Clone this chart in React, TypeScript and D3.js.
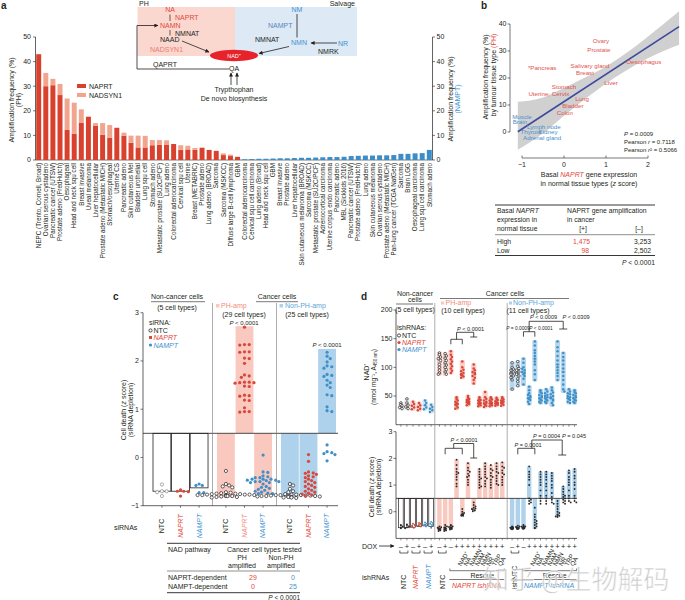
import React from 'react';
import * as d3 from 'd3';

const FONT = "'Liberation Sans', Arial, Helvetica, sans-serif";
const INK = '#231f20';
const RED = '#d8412d';
const SALMON = '#f2a58e';
const BLUE = '#3b8dc7';
const TRED = '#e2483a';
const TBLUE = '#3f93cf';
const PINKF = '#f9c8bf';
const BLUEF = '#aed2eb';

// ---------- Panel a ----------
const phTypes = ['NEPC (Trento, Cornell, Broad)', 'Ovarian serous cystadeno', 'Pancreatic cancer (UTSW)', 'Prostate adeno (FredHutch)', 'Oesophageal', 'Head and neck squ cell', 'Breast invasive', 'Uveal melanoma', 'Liver hepatocellular', 'Prostate adeno (Metastatic MICH)', 'Stomach/oesophageal', 'Uterine CS', 'Pancreatic adeno', 'Skin cutaneous Mel', 'Bladder urothelial', 'Lung squ cell', 'Stomach adeno', 'Metastatic prostate (SU2C/PCF)', 'Lung adeno', 'Colorectal adenocarcinoma', 'Cervical squ cell', 'Uterine', 'Breast (METABRIC)', 'Prostate adeno', 'Lung adeno (BROAD)', 'Sarcoma', 'Sarcoma (MSKCC)', 'Diffuse large B-cell lymphoma', 'GBM'];
const naprtAmp = [43, 30, 30.4, 26.4, 12.2, 10.6, 15.2, 17.6, 14, 10.2, 9.1, 13.1, 9.9, 7.0, 5.1, 5.1, 6.0, 6.2, 6.3, 6.5, 4.1, 4.3, 4.2, 5.0, 4.1, 3.7, 2.0, 1.6, 1.3];
const nadsyn1Amp = [0, 5.4, 2.6, 4.5, 12.8, 12.7, 5.4, 0, 1, 4.8, 5.1, 0, 1.2, 2.9, 4.8, 4.7, 2.1, 1.9, 1.7, 0, 1.9, 1.5, 0.7, 0, 0, 0, 0.7, 0.6, 0];
const namptTypes = ['Colorectal adenocarcinoma', 'Cervical squ cell carcinoma', 'Lung adeno (Broad)', 'Head and neck squ cell', 'GBM', 'Breast invasive', 'Prostate adeno', 'Liver hepatocellular', 'Skin cutaneous melanoma (BROAD)', 'Sarcoma (MSKCC)', 'Metastatic prostate (SU2C/PCF)', 'Adrenocortical carcinoma', 'Uterine corpus endo carcinoma', 'Pancreatic adeno', 'MBL (Sickkids 2016)', 'Pancreatic cancer (UTSW)', 'Prostate adeno (FredHutch)', 'Lung adeno', 'Skin cutaneous melanoma', 'Ovarian serous cystadeno', 'Prostate adeno (Metastatic MICH)', 'Pan-lung cancer (TCGA NatGen)', 'Sarcoma', 'Brain LGG', 'Oesophageal carcinoma', 'Lung squ cell carcinoma', 'Stomach adeno'];
const namptAmp = [0.3, 0.4, 0.5, 0.5, 0.6, 0.7, 0.7, 0.8, 0.9, 0.9, 1.0, 1.1, 1.2, 1.2, 1.3, 1.6, 1.7, 1.8, 1.8, 1.9, 1.9, 2.0, 2.5, 2.5, 2.7, 2.8, 4.1];
const ampTicks = [0, 10, 20, 30, 40, 50];

// ---------- Panel b ----------
const tissues = ['Ovary', 'Prostate', '*Pancreas', 'Salivary gland', 'Oesophagus', 'Breast', 'Liver', 'Stomach', 'Uterine; Cervix', 'Lung', 'Bladder', 'Colon', 'Muscle', 'Brain', 'Lymph node', 'Thyroid', 'Kidney', 'Adrenal gland'];
const tissueExpr = [0.88, 0.83, -0.52, 0.62, 1.9, 0.5, 1.12, 0.0, -0.36, 0.43, 0.21, 0.02, -1.0, -1.05, -0.48, -0.79, -0.38, -0.52];
const tissueAmp = [33.7, 30.4, 23.7, 24.4, 25.9, 21.9, 18.1, 16.7, 14.1, 12.2, 9.6, 7.0, 5.6, 3.7, 1.9, 0.1, 0.0, -2.2];
const tissuePH = [1, 1, 1, 1, 1, 1, 1, 1, 1, 1, 1, 1, 0, 0, 0, 0, 0, 0];
const fitX = [-1.1, 2.74];
const fitY = [0.1, 39];
const bandX = [-1.1, -0.5, 0, 0.5, 1.0, 1.5, 2.0, 2.74];
const bandLo = [-6.6, -0.5, 6.0, 12.2, 18.0, 23.0, 27.3, 32.3];
const bandHi = [11.2, 12.8, 16.3, 20.2, 24.3, 29.4, 35.4, 44.7];
const bXTicks = [-1, 0, 1, 2];
const bYTicks = [0, 10, 20, 30, 40];

// ---------- Panel c ----------
const cGroups = ['non', 'ph', 'nonph'];
const cSi = ['NTC', 'NAPRT', 'NAMPT'];
const cBars = { non: [-0.7, -0.7, -0.63], ph: [-0.83, 2.72, -0.77], nonph: [-0.83, -0.8, 2.25] };
const cNonNTC = [-0.56, -0.7, -0.7, -0.72, -0.8];
const cNonNAPRT = [-0.67, -0.7, -0.7, -0.71, -0.8];
const cNonNAMPT = [-0.58, -0.58, -0.55, -0.73, -0.73];
const cPHNTC = [-0.28, -0.55, -0.58, -0.6, -0.62, -0.72, -0.73, -0.74, -0.75, -0.75, -0.76, -0.76, -0.77, -0.77, -0.78, -0.78, -0.78, -0.79, -0.79, -0.8, -0.8, -0.8, -0.81, -0.81, -0.82, -0.82, -0.83, -0.79, -0.77];
const cPHNAPRT = [2.7, 2.34, 2.33, 2.34, 2.19, 2.18, 2.19, 2.05, 2.06, 1.95, 1.71, 1.69, 1.66, 1.56, 1.55, 1.56, 1.55, 1.54, 1.47, 1.48, 1.28, 1.27, 1.29, 1.18, 1.19, 1.03, 0.95, 0.94, 0.95];
const cPHNAMPT = [0.05, -0.3, -0.31, -0.38, -0.4, -0.42, -0.42, -0.45, -0.45, -0.45, -0.47, -0.47, -0.48, -0.5, -0.5, -0.5, -0.52, -0.52, -0.55, -0.6, -0.62, -0.64, -0.66, -0.68, -0.7, -0.72, -0.74, -0.75, -0.75];
const cNPNTC = [-0.55, -0.58, -0.65, -0.7, -0.72, -0.76, -0.77, -0.77, -0.78, -0.78, -0.79, -0.79, -0.8, -0.8, -0.8, -0.81, -0.81, -0.82, -0.82, -0.83, -0.83, -0.84, -0.79, -0.8, -0.78];
const cNPNAPRT = [0.06, -0.08, -0.3, -0.32, -0.33, -0.35, -0.38, -0.4, -0.42, -0.45, -0.48, -0.5, -0.52, -0.55, -0.58, -0.6, -0.62, -0.65, -0.68, -0.7, -0.72, -0.74, -0.76, -0.78, -0.8];
const cNPNAMPT = [2.18, 2.1, 2.05, 1.98, 1.9, 1.88, 1.85, 1.72, 1.7, 1.68, 1.6, 1.55, 1.5, 1.45, 1.3, 1.28, 1.05, 0.97, 0.95, 0.26, 0.12, 0.1, 0.08, 0.06, -0.07];
const cYTicks = [-1, 0, 1, 2, 3];

// ---------- Panel d ----------
const dNonDox = ['–', '+', '–', '+', '–', '+'];
const dCancerDox = ['–', '+', '–', '+', '+', '+', '+', '+', '+', '+', '+', '+'];
const rescueLabels = ['NAD⁺', 'NA', 'NAMN', 'NAM', 'NMN', 'NR', 'TRP', 'QA'];
const dNadNon = [[38, 35, 33, 30, 28], [45, 38, 34, 31, 28], [40, 36, 33, 30, 27], [38, 34, 31, 28, 25], [42, 38, 34, 30, 27], [35, 31, 28, 25, 22]];
const dNadPH = [
  [125, 122, 118, 115, 112, 105, 100, 95, 90, 88], [124, 120, 116, 112, 108, 104, 100, 96, 92, 88],
  [128, 122, 118, 114, 110, 106, 102, 98, 94, 90], [48, 45, 42, 40, 38, 36, 35, 33, 30, 28],
  [110, 100, 96, 93, 90, 88, 87, 86, 84, 82], [50, 47, 45, 43, 42, 40, 39, 38, 36, 34],
  [105, 98, 95, 92, 90, 88, 85, 82, 78, 72], [48, 45, 43, 42, 40, 38, 37, 36, 34, 32],
  [57, 48, 45, 42, 40, 38, 37, 35, 33, 31], [48, 46, 44, 42, 40, 38, 37, 36, 34, 32],
  [47, 45, 43, 41, 40, 38, 37, 36, 35, 33], [48, 46, 44, 42, 41, 40, 38, 37, 35, 33]];
const dNadNP = [
  [108, 100, 97, 95, 92, 90, 88, 85, 82, 78, 62], [110, 102, 98, 95, 92, 90, 88, 85, 80, 75, 68],
  [115, 108, 100, 97, 95, 92, 90, 88, 85, 80, 70], [66, 60, 55, 52, 50, 48, 46, 45, 43, 40, 36],
  [145, 138, 130, 125, 120, 115, 110, 105, 95, 88, 78], [60, 57, 55, 52, 50, 48, 46, 44, 42, 40, 38],
  [62, 58, 55, 52, 50, 48, 46, 44, 42, 40, 38], [65, 60, 56, 53, 50, 48, 46, 44, 42, 38, 34],
  [145, 135, 128, 120, 112, 105, 100, 95, 90, 85, 78], [125, 118, 112, 105, 98, 92, 85, 78, 70, 62, 58],
  [62, 58, 55, 53, 50, 48, 46, 45, 43, 40, 38], [60, 57, 55, 52, 50, 48, 46, 44, 42, 40, 38]];
const dBarNon = [-0.6, -0.6, -0.58, -0.55, -0.53, -0.55];
const dDeathNon = [[-0.5, -0.52, -0.55, -0.6, -0.62], [-0.48, -0.5, -0.55, -0.58, -0.62], [-0.45, -0.5, -0.52, -0.55, -0.6], [-0.42, -0.45, -0.5, -0.52, -0.55], [-0.4, -0.45, -0.48, -0.5, -0.55], [-0.38, -0.42, -0.45, -0.5, -0.6]];
const dBarPH = [-0.68, -0.68, -0.66, 1.96, -0.12, 1.85, 0.07, 1.62, 1.85, 1.75, 1.85, 1.88];
const dDeathPH = [
  [-0.55, -0.58, -0.6, -0.62, -0.63, -0.65, -0.66, -0.68, -0.7, -0.72], [-0.5, -0.55, -0.58, -0.6, -0.62, -0.64, -0.66, -0.68, -0.7, -0.72],
  [-0.5, -0.52, -0.55, -0.57, -0.58, -0.6, -0.62, -0.63, -0.65, -0.67], [1.95, 1.75, 1.6, 1.5, 1.45, 1.4, 1.3, 1.2, 1.05, 0.95],
  [0.1, 0.0, -0.05, -0.08, -0.1, -0.1, -0.12, -0.13, -0.15, -0.15], [1.82, 1.65, 1.55, 1.5, 1.42, 1.35, 1.3, 1.2, 1.1, 1.0],
  [0.35, 0.25, 0.2, 0.15, 0.12, 0.1, 0.08, 0.05, 0.05, 0.02], [1.6, 1.5, 1.4, 1.3, 1.25, 1.2, 1.1, 1.0, 0.95, 0.9],
  [1.82, 1.7, 1.6, 1.5, 1.4, 1.3, 1.25, 1.15, 1.05, 0.95], [1.75, 1.6, 1.55, 1.45, 1.35, 1.3, 1.2, 1.1, 1.0, 0.9],
  [1.82, 1.7, 1.6, 1.5, 1.45, 1.35, 1.25, 1.15, 1.05, 1.0], [1.85, 1.7, 1.65, 1.55, 1.45, 1.4, 1.3, 1.2, 1.1, 1.0]];
const dBarNP = [-0.62, -0.62, -0.6, 1.7, -0.65, 1.5, 1.52, 1.48, -0.18, 0.95, 1.55, 1.62];
const dDeathNP = [
  [-0.55, -0.57, -0.58, -0.6, -0.6, -0.62, -0.62, -0.63, -0.64, -0.65, -0.66], [-0.52, -0.55, -0.57, -0.58, -0.6, -0.6, -0.61, -0.62, -0.63, -0.64, -0.65],
  [-0.5, -0.52, -0.55, -0.56, -0.57, -0.58, -0.6, -0.61, -0.62, -0.63, -0.64], [1.7, 1.5, 1.4, 1.3, 1.2, 1.0, 0.5, 0.45, 0.4, 0.35, 0.3],
  [0.15, -0.1, -0.2, -0.3, -0.35, -0.4, -0.45, -0.5, -0.55, -0.6, -0.62], [1.5, 1.4, 1.3, 1.2, 1.1, 1.0, 0.8, 0.6, 0.5, 0.4, 0.3],
  [1.5, 1.4, 1.3, 1.2, 1.05, 0.95, 0.8, 0.6, 0.5, 0.4, 0.3], [1.45, 1.35, 1.25, 1.15, 1.0, 0.9, 0.7, 0.55, 0.45, 0.35, 0.3],
  [0.4, 0.3, 0.2, 0.1, 0.0, -0.05, -0.1, -0.12, -0.15, -0.18, -0.2], [0.95, 0.85, 0.75, 0.65, 0.6, 0.55, 0.5, 0.45, 0.4, 0.35, 0.3],
  [1.55, 1.45, 1.3, 1.2, 1.1, 1.0, 0.8, 0.6, 0.5, 0.4, 0.35], [1.6, 1.5, 1.35, 1.25, 1.1, 1.0, 0.85, 0.6, 0.5, 0.4, 0.35]];
const dNadTicks = [50, 100, 150, 200];
const dDeathTicks = [0, 1, 2, 3];

function swarm(vals: number[], yf: (v: number) => number, cx: number, r: number, maxOff = 99) {
  const ys = vals.map(yf).sort((a, b) => a - b);
  const out: { x: number; y: number }[] = [];
  const step = r * 0.9;
  ys.forEach((py, idx) => {
    let chosen: number | null = null;
    for (let k = 0; k < 40; k++) {
      const off = (k % 2 === 1 ? 1 : -1) * Math.ceil(k / 2) * step;
      if (Math.abs(off) > maxOff) break;
      const ok = out.every(p => (p.x - (cx + off)) ** 2 + (p.y - py) ** 2 >= (2 * r) ** 2 * 0.92);
      if (ok) { chosen = off; break; }
    }
    if (chosen === null) chosen = ((idx % 3) - 1) * Math.min(maxOff, step);
    out.push({ x: cx + chosen, y: py });
  });
  return out;
}

const T = ({ x, y, s = 7, a = 'start', c = INK, w, it, r, children }: any) => (
  <text x={x} y={y} fontSize={s} textAnchor={a} fill={c} fontWeight={w} fontStyle={it ? 'italic' : undefined}
    transform={r ? `rotate(${r},${x},${y})` : undefined}>{children}</text>
);

const Dot = ({ p, kind, r }: any) => {
  if (kind === 'open') return <circle cx={p.x} cy={p.y} r={r} fill="#fff" stroke={INK} strokeWidth={0.7} />;
  if (kind === 'grey') return <circle cx={p.x} cy={p.y} r={r} fill="#fff" stroke="#888" strokeWidth={0.7} />;
  const fill = kind === 'red' ? '#d9463a' : kind === 'blue' ? '#3f90c9' : '#2b2b2b';
  return <circle cx={p.x} cy={p.y} r={r} fill={fill} />;
};

export default function App() {
  const nPH = phTypes.length;
  const aLabels = [...phTypes, ...namptTypes];
  const xa = d3.scaleBand<number>().domain(d3.range(aLabels.length)).range([35.5, 432.5]).paddingInner(0.3).paddingOuter(0.1);
  const ya = d3.scaleLinear().domain([0, 50]).range([160, 37]);
  const xb = d3.scaleLinear().domain([-1, 2]).range([522, 648]);
  const yb = d3.scaleLinear().domain([0, 40]).range([132, 24]);
  const band = d3.area<number>().x((d, i) => xb(bandX[i])).y0((d, i) => yb(bandLo[i])).y1((d, i) => yb(bandHi[i])).curve(d3.curveMonotoneX)(bandX);
  const fit = d3.line<number>().x((d, i) => xb(fitX[i])).y(d => yb(d))(fitY);
  const xcG = d3.scaleBand<string>().domain(cGroups).range([153, 336]).paddingInner(0.14);
  const xcI = d3.scaleBand<string>().domain(cSi).range([0, xcG.bandwidth()]).paddingInner(0.04);
  const yc = d3.scaleLinear().domain([-1, 3]).range([505.7, 312.7]);
  const cx = (g: string, s: string) => (xcG(g) as number) + (xcI(s) as number);
  const cxc = (g: string, s: string) => cx(g, s) + xcI.bandwidth() / 2;
  const cDots: [string, string, number[], string][] = [
    ['non', 'NTC', cNonNTC, 'grey'], ['non', 'NAPRT', cNonNAPRT, 'red'], ['non', 'NAMPT', cNonNAMPT, 'blue'],
    ['ph', 'NTC', cPHNTC, 'open'], ['ph', 'NAPRT', cPHNAPRT, 'red'], ['ph', 'NAMPT', cPHNAMPT, 'blue'],
    ['nonph', 'NTC', cNPNTC, 'open'], ['nonph', 'NAPRT', cNPNAPRT, 'red'], ['nonph', 'NAMPT', cNPNAMPT, 'blue']];
  const cXLab: [string, string, string][] = [];
  cGroups.forEach(g => cSi.forEach(s => cXLab.push([g, s, s === 'NTC' ? INK : s === 'NAPRT' ? (g === 'ph' ? '#f08c80' : TRED) : TBLUE])));
  const xdNon = d3.scaleBand<number>().domain(d3.range(6)).range([398.5, 433.5]).paddingInner(0.22);
  const xdPH = d3.scaleBand<number>().domain(d3.range(12)).range([437.2, 504.5]).paddingInner(0.22);
  const xdNP = d3.scaleBand<number>().domain(d3.range(12)).range([509.9, 576.8]).paddingInner(0.22);
  const ydT = d3.scaleLinear().domain([0, 200]).range([424.7, 310]);
  const ydB = d3.scaleLinear().domain([-1, 3]).range([538.4, 431.7]);
  const dc = (sc: any, i: number) => sc(i) + sc.bandwidth() / 2;
  const nonKinds = ['open', 'open', 'red', 'red', 'blue', 'blue'];
  const phKinds = (i: number) => (i < 2 ? 'open' : 'red');
  const npKinds = (i: number) => (i < 2 ? 'open' : 'blue');
  const nonBox = ['#e6e6e6', '#e6e6e6', '#f6d2cb', '#f6d2cb', '#cfe2f1', '#cfe2f1'];

  const arrow = 'url(#ah)';
  const thr = yc(0.5);
  const thrD = ydB(0.5);

  const dAll: [any, number[][], number[], (i: number) => string, string][] = [
    [xdNon, dNadNon, dBarNon, (i: number) => nonKinds[i], 'non'],
    [xdPH, dNadPH, dBarPH, phKinds, 'ph'],
    [xdNP, dNadNP, dBarNP, npKinds, 'np']];
  const deathAll = [dDeathNon, dDeathPH, dDeathNP];

  const bracket = (x1: number, x2: number, y: number, h: number) => `M${x1},${y + h}V${y}H${x2}V${y + h}`;

  return (
    <svg width={685} height={600} style={{ position: 'absolute', left: 0, top: 0, fontFamily: FONT, background: '#fff' }}>
      <defs>
        <marker id="ah" viewBox="0 0 10 10" refX="9" refY="5" markerWidth="5" markerHeight="4" markerUnits="userSpaceOnUse" orient="auto">
          <path d="M0,0L10,5L0,10z" fill={INK} />
        </marker>
      </defs>
      <rect x={0} y={0} width={685} height={600} fill="#fff" />

      {/* ================= Panel a ================= */}
      <T x={1} y={9} s={10} w="bold">a</T>
      <rect x={137.5} y={7} width={97.5} height={49} fill="#fbd8cf" />
      <rect x={235} y={7} width={122} height={49} fill="#dde9f5" />
      <T x={139} y={5.5} s={7}>PH</T>
      <T x={355} y={5.5} s={7} a="end">Salvage</T>
      <T x={170} y={12} s={7} a="middle" c={TRED}>NA</T>
      <line x1={170} x2={170} y1={14.5} y2={21} stroke={INK} strokeWidth={0.7} />
      <T x={175} y={20} s={7} c={TRED}>NAPRT</T>
      <T x={160} y={28} s={7} c={TRED}>NAMN</T>
      <path d="M229,69H137V25.5H158" fill="none" stroke={INK} strokeWidth={0.8} markerEnd={arrow} />
      <line x1={170} x2={170} y1={30} y2={35.5} stroke={INK} strokeWidth={0.7} />
      <T x={175} y={35.5} s={7}>NMNAT</T>
      <T x={160} y={42} s={7}>NAAD</T>
      <line x1={182} y1={41} x2={209} y2={52} stroke={INK} strokeWidth={0.8} markerEnd={arrow} />
      <T x={150} y={52} s={7} c="#e77d6e">NADSYN1</T>
      <T x={153} y={66.5} s={7}>QAPRT</T>
      <ellipse cx={234} cy={55.5} rx={24} ry={5.8} fill="#e6232b" />
      <T x={234} y={57.8} s={5.5} a="middle" c="#fff">NAD⁺</T>
      <T x={234} y={70.5} s={7} a="middle">QA</T>
      <line x1={231} x2={231} y1={85} y2={73} stroke={INK} strokeWidth={0.8} markerEnd={arrow} />
      <line x1={237} x2={237} y1={85} y2={73} stroke={INK} strokeWidth={0.8} markerEnd={arrow} />
      <T x={234} y={92} s={7} a="middle">Trypthophan</T>
      <T x={234} y={101} s={7} a="middle">De novo biosynthesis</T>
      <T x={297} y={12} s={7} a="middle" c={TBLUE}>NM</T>
      <line x1={297} x2={297} y1={14} y2={37.5} stroke={INK} strokeWidth={0.8} />
      <T x={268} y={28} s={7} c="#5a86bf">NAMPT</T>
      <T x={255} y={42} s={7}>NMNAT</T>
      <T x={291} y={45} s={7} c={TBLUE}>NMN</T>
      <line x1={289} y1={46.5} x2={259} y2={53.5} stroke={INK} strokeWidth={0.8} markerEnd={arrow} />
      <line x1={337} y1={43} x2={311} y2={43} stroke={INK} strokeWidth={0.8} markerEnd={arrow} />
      <T x={338} y={45.5} s={7} c={TBLUE}>NR</T>
      <T x={318} y={54} s={7}>NMRK</T>

      <line x1={35.5} x2={35.5} y1={ya(50)} y2={ya(0)} stroke={INK} strokeWidth={0.7} />
      <line x1={432.5} x2={432.5} y1={ya(50)} y2={ya(0)} stroke={INK} strokeWidth={0.7} />
      <line x1={35.5} x2={432.5} y1={ya(0)} y2={ya(0)} stroke={INK} strokeWidth={0.6} />
      {ampTicks.map(t => (
        <g key={'at' + t}>
          <line x1={33} x2={35.5} y1={ya(t)} y2={ya(t)} stroke={INK} strokeWidth={0.6} />
          <T x={31} y={ya(t) + 2.4} s={7} a="end">{t}</T>
          <line x1={432.5} x2={435} y1={ya(t)} y2={ya(t)} stroke={INK} strokeWidth={0.6} />
          <T x={436.5} y={ya(t) + 2.4} s={7}>{t}</T>
        </g>
      ))}
      <text fontSize={7} fill={INK} textAnchor="middle" transform={`translate(13.5,100) rotate(-90)`}>Amplification frequency (%)</text>
      <text fontSize={7} fill={INK} textAnchor="middle" transform={`translate(20.5,100) rotate(-90)`}>(PH)</text>
      <text fontSize={7} fill={INK} textAnchor="middle" transform={`translate(453,99) rotate(-90)`}>Amplification frequency (%)</text>
      <text fontSize={7} fill={TBLUE} textAnchor="middle" transform={`translate(460,99) rotate(-90)`}>(NAMPT)</text>
      {phTypes.map((n, i) => (
        <g key={'pb' + i}>
          <rect x={xa(i)} width={xa.bandwidth()} y={ya(naprtAmp[i])} height={ya(0) - ya(naprtAmp[i])} fill={RED} />
          {nadsyn1Amp[i] > 0 && <rect x={xa(i)} width={xa.bandwidth()} y={ya(naprtAmp[i] + nadsyn1Amp[i])} height={ya(naprtAmp[i]) - ya(naprtAmp[i] + nadsyn1Amp[i])} fill={SALMON} />}
        </g>
      ))}
      {namptTypes.map((n, i) => (
        <rect key={'nb' + i} x={xa(i + nPH)} width={xa.bandwidth()} y={ya(namptAmp[i])} height={ya(0) - ya(namptAmp[i])} fill={BLUE} />
      ))}
      {aLabels.map((n, i) => {
        const x = (xa(i) as number) + xa.bandwidth() / 2 + 2.2;
        return <text key={'al' + i} fontSize={6.3} fill={INK} textAnchor="end" transform={`translate(${x},163) rotate(-90)`}>{n}</text>;
      })}
      <rect x={77} y={84} width={9} height={4} fill={RED} />
      <T x={89} y={88.5} s={7}>NAPRT</T>
      <rect x={77} y={93} width={9} height={4} fill={SALMON} />
      <T x={89} y={97.5} s={7}>NADSYN1</T>

      {/* ================= Panel b ================= */}
      <T x={481} y={9} s={10} w="bold">b</T>
      <path d={band as string} fill="#c8c8c8" opacity={0.85} />
      <path d={fit as string} fill="none" stroke="#3c4a9e" strokeWidth={1.6} />
      <line x1={510} x2={510} y1={yb(40)} y2={yb(0)} stroke={INK} strokeWidth={0.6} />
      {bYTicks.map(t => (
        <g key={'byt' + t}>
          <line x1={507.5} x2={510} y1={yb(t)} y2={yb(t)} stroke={INK} strokeWidth={0.6} />
          <T x={506.5} y={yb(t) + 2.4} s={7} a="end">{t}</T>
        </g>
      ))}
      <line x1={xb(-1)} x2={xb(2)} y1={158} y2={158} stroke={INK} strokeWidth={0.6} />
      {bXTicks.map(t => (
        <g key={'bxt' + t}>
          <line x1={xb(t)} x2={xb(t)} y1={155.5} y2={158} stroke={INK} strokeWidth={0.6} />
          <T x={xb(t)} y={166.5} s={7} a="middle">{t === -1 ? '−1' : t}</T>
        </g>
      ))}
      <text fontSize={7} fill={INK} textAnchor="middle" transform="translate(487.5,77) rotate(-90)">Amplification frequency (%)</text>
      <text fontSize={7} fill={INK} textAnchor="middle" transform="translate(496,75) rotate(-90)">by tumour tissue type <tspan fill={TRED}>(PH)</tspan></text>
      <text x={589} y={176.5} fontSize={7} fill={INK} textAnchor="middle">Basal <tspan fill={TRED} fontStyle="italic">NAPRT</tspan> gene expression</text>
      <text x={589} y={185.5} fontSize={7} fill={INK} textAnchor="middle">in normal tissue types (<tspan fontStyle="italic">z</tspan> score)</text>
      {tissues.map((n, i) => (
        <T key={'ts' + i} x={xb(tissueExpr[i])} y={yb(tissueAmp[i]) + 2.3} s={6.2} a="middle" c={tissuePH[i] ? '#e2504a' : '#4a90cd'}>{n}</T>
      ))}
      <text x={624} y={135.5} fontSize={6} fill={INK}><tspan fontStyle="italic">P</tspan> = 0.0009</text>
      <text x={624} y={143.5} fontSize={6} fill={INK}>Pearson <tspan fontStyle="italic">r</tspan> = 0.7118</text>
      <text x={624} y={151.5} fontSize={6} fill={INK}>Pearson <tspan fontStyle="italic">r</tspan>² = 0.5066</text>
      <line x1={495} x2={655} y1={205} y2={205} stroke={INK} strokeWidth={0.9} />
      <text x={497} y={213} fontSize={6.8} fill={INK}>Basal <tspan fontStyle="italic">NAPRT</tspan></text>
      <T x={497} y={222} s={6.8}>expression in</T>
      <T x={497} y={230.5} s={6.8}>normal tissue</T>
      <T x={567} y={213} s={6.8}>NAPRT gene amplification</T>
      <T x={567} y={222} s={6.8}>in cancer</T>
      <T x={583} y={231} s={6.8} a="middle">[+]</T>
      <T x={639} y={231} s={6.8} a="middle">[–]</T>
      <line x1={495} x2={655} y1={234.7} y2={234.7} stroke={INK} strokeWidth={0.5} />
      <T x={497} y={243.5} s={6.8}>High</T>
      <T x={590} y={243.5} s={6.8} a="end" c={TRED}>1,475</T>
      <T x={651} y={243.5} s={6.8} a="end">3,253</T>
      <T x={497} y={252.5} s={6.8}>Low</T>
      <T x={589} y={252.5} s={6.8} a="end" c={TRED}>98</T>
      <T x={651} y={252.5} s={6.8} a="end">2,502</T>
      <line x1={495} x2={655} y1={255.5} y2={255.5} stroke={INK} strokeWidth={0.9} />
      <text x={655} y={265} fontSize={6.8} fill={INK} textAnchor="end"><tspan fontStyle="italic">P</tspan> &lt; 0.0001</text>

      {/* ================= Panel c ================= */}
      <T x={113} y={299.5} s={10} w="bold">c</T>
      <T x={177} y={298.5} s={7} a="middle">Non-cancer cells</T>
      <line x1={151} x2={205} y1={301.7} y2={301.7} stroke={INK} strokeWidth={0.6} />
      <T x={177} y={309.5} s={7} a="middle">(5 cell types)</T>
      <T x={277} y={298.5} s={7} a="middle">Cancer cells</T>
      <line x1={256} x2={298} y1={301.7} y2={301.7} stroke={INK} strokeWidth={0.6} />
      <rect x={216} y={304} width={3.5} height={3.5} fill={PINKF} />
      <T x={221} y={308} s={7} c="#f08a7a">PH-amp</T>
      <T x={244} y={316.5} s={7} a="middle">(29 cell types)</T>
      <rect x={279.5} y={304} width={3.5} height={3.5} fill={BLUEF} />
      <T x={285} y={308} s={7} c="#5ba6d9">Non-PH-amp</T>
      <T x={307} y={316.5} s={7} a="middle">(25 cell types)</T>
      {cGroups.map(g => cSi.map((s, j) => {
        const v = (cBars as any)[g][j];
        const y0 = Math.min(thr, yc(v)), h = Math.abs(yc(v) - thr);
        const fill = g === 'non' ? '#fff' : g === 'ph' ? PINKF : BLUEF;
        return <rect key={'cb' + g + s} x={cx(g, s)} width={xcI.bandwidth()} y={y0} height={h} fill={fill}
          stroke={g === 'non' ? INK : 'none'} strokeWidth={0.8} />;
      }))}
      <line x1={143} x2={338} y1={thr} y2={thr} stroke={INK} strokeWidth={0.8} />
      <line x1={212.5} x2={212.5} y1={303} y2={505.7} stroke="#777" strokeWidth={0.6} />
      <line x1={276.5} x2={276.5} y1={303} y2={505.7} stroke="#777" strokeWidth={0.6} />
      {cDots.map(([g, s, vals, kind]) => swarm(vals, yc, cxc(g, s), 1.75).map((p, k) => (
        <Dot key={'cd' + g + s + k} p={p} kind={kind} r={1.6} />
      )))}
      <line x1={143} x2={143} y1={yc(3)} y2={yc(-1)} stroke={INK} strokeWidth={0.7} />
      <line x1={143} x2={338} y1={yc(-1)} y2={yc(-1)} stroke={INK} strokeWidth={0.7} />
      {cYTicks.map(t => (
        <g key={'cyt' + t}>
          <line x1={140.5} x2={143} y1={yc(t)} y2={yc(t)} stroke={INK} strokeWidth={0.6} />
          <T x={139} y={yc(t) + 2.4} s={7} a="end">{t < 0 ? '−' + Math.abs(t) : t}</T>
        </g>
      ))}
      {cXLab.map(([g, s]) => (
        <line key={'cxt' + g + s} x1={cxc(g, s)} x2={cxc(g, s)} y1={yc(-1)} y2={yc(-1) + 2} stroke={INK} strokeWidth={0.6} />
      ))}
      <text fontSize={7} fill={INK} textAnchor="middle" transform="translate(126,410) rotate(-90)">Cell death (<tspan fontStyle="italic">z</tspan> score)</text>
      <text fontSize={7} fill={INK} textAnchor="middle" transform="translate(133,410) rotate(-90)">(siRNA depletion)</text>
      <text x={244} y={324.5} fontSize={6} fill={INK} textAnchor="middle"><tspan fontStyle="italic">P</tspan> &lt; 0.0001</text>
      <text x={327} y={346.5} fontSize={6} fill={INK} textAnchor="middle"><tspan fontStyle="italic">P</tspan> &lt; 0.0001</text>
      <T x={149} y={325} s={7}>siRNA:</T>
      <circle cx={150.5} cy={330.5} r={1.6} fill="#fff" stroke={INK} strokeWidth={0.8} />
      <T x={153.5} y={333} s={7}>NTC</T>
      <rect x={149} y={336} width={3} height={3} fill="#d9463a" />
      <T x={153.5} y={340} s={7} c={TRED} it>NAPRT</T>
      <circle cx={150.5} cy={345} r={1.6} fill="#3f90c9" />
      <T x={153.5} y={347.5} s={7} c={TBLUE} it>NAMPT</T>
      {cXLab.map(([g, s, col]) => (
        <text key={'cxl' + g + s} fontSize={7} fill={col} fontStyle={s === 'NTC' ? undefined : 'italic'} textAnchor="middle"
          transform={`translate(${cxc(g, s) + 2.4},526) rotate(-90)`}>{s}</text>
      ))}
      <T x={114} y={530} s={7}>siRNAs</T>
      <line x1={167} x2={300} y1={543.3} y2={543.3} stroke={INK} strokeWidth={0.9} />
      <T x={168} y={551.5} s={7}>NAD pathway</T>
      <T x={227} y={551.5} s={7}>Cancer cell types tested</T>
      <T x={242} y={560} s={7} a="middle">PH</T>
      <T x={242} y={568} s={7} a="middle">amplified</T>
      <T x={281} y={560} s={7} a="middle">Non-PH</T>
      <T x={281} y={568} s={7} a="middle">amplified</T>
      <line x1={167} x2={300} y1={571} y2={571} stroke={INK} strokeWidth={0.5} />
      <T x={168} y={579.5} s={7}>NAPRT-dependent</T>
      <T x={253} y={579.5} s={7} a="middle" c={TRED}>29</T>
      <T x={293} y={579.5} s={7} a="middle" c={TBLUE}>0</T>
      <T x={168} y={589} s={7}>NAMPT-dependent</T>
      <T x={253} y={589} s={7} a="middle" c={TRED}>0</T>
      <T x={293} y={589} s={7} a="middle" c={TBLUE}>25</T>
      <line x1={167} x2={300} y1={592.7} y2={592.7} stroke={INK} strokeWidth={0.9} />
      <text x={300} y={599.5} fontSize={6.5} fill={INK} textAnchor="end"><tspan fontStyle="italic">P</tspan> &lt; 0.0001</text>

      {/* ================= Panel d ================= */}
      <T x={361} y={300} s={10} w="bold">d</T>
      <T x={415} y={295.5} s={7} a="middle">Non-cancer</T>
      <T x={415} y={302.3} s={7} a="middle">cells</T>
      <line x1={396} x2={433} y1={304} y2={304} stroke={INK} strokeWidth={0.6} />
      <T x={415} y={311.5} s={7} a="middle">(5 cell types)</T>
      <T x={505} y={296} s={7} a="middle">Cancer cells</T>
      <line x1={440} x2={569} y1={298.5} y2={298.5} stroke={INK} strokeWidth={0.6} />
      <rect x={441} y={301.5} width={3} height={3} fill={PINKF} />
      <T x={445.5} y={305} s={7} c="#f08a7a">PH-amp</T>
      <T x={463} y={313} s={7} a="middle">(10 cell types)</T>
      <rect x={509} y={301.5} width={3} height={3} fill={BLUEF} />
      <T x={513} y={305} s={7} c="#5ba6d9">Non-PH-amp</T>
      <T x={528} y={313} s={7} a="middle">(11 cell types)</T>
      <T x={397} y={330} s={7}>ishRNAs:</T>
      <circle cx={399} cy={335.5} r={1.6} fill="#fff" stroke={INK} strokeWidth={0.8} />
      <T x={402} y={338} s={7}>NTC</T>
      <circle cx={399} cy={342.5} r={1.6} fill="#d9463a" />
      <T x={402} y={345} s={7} c={TRED} it>NAPRT</T>
      <circle cx={399} cy={349.5} r={1.6} fill="#3f90c9" />
      <T x={402} y={352} s={7} c={TBLUE} it>NAMPT</T>

      {dAll.map(([sc, nad, , kindF, key]) => nad.map((vals, i) => {
        const c0 = dc(sc, i);
        const boxFill = key === 'non' ? nonBox[i] : key === 'ph' ? PINKF : BLUEF;
        const lo = ydT(d3.min(vals) as number), hi = ydT(d3.max(vals) as number);
        const med = ydT(d3.median(vals) as number);
        return (
          <g key={'dt' + key + i}>
            <rect x={sc(i) - 0.3} width={sc.bandwidth() + 0.6} y={hi - 1.5} height={lo - hi + 3} rx={1.5} fill={boxFill} opacity={0.9} />
            <line x1={sc(i)} x2={sc(i) + sc.bandwidth()} y1={med} y2={med} stroke="#888" strokeWidth={0.4} />
            {swarm(vals, ydT, c0, 1.3, 2.2).map((p, k) => <Dot key={k} p={p} kind={kindF(i)} r={1.25} />)}
          </g>
        );
      }))}
      <line x1={396} x2={396} y1={ydT(200)} y2={ydT(0)} stroke={INK} strokeWidth={0.7} />
      <line x1={396} x2={577} y1={ydT(0)} y2={ydT(0)} stroke={INK} strokeWidth={0.7} />
      {dNadTicks.map(t => (
        <g key={'dyt' + t}>
          <line x1={393.5} x2={396} y1={ydT(t)} y2={ydT(t)} stroke={INK} strokeWidth={0.6} />
          <T x={392.5} y={ydT(t) + 2.4} s={7} a="end">{t}</T>
        </g>
      ))}
      {dAll.map(([sc, nad, , , key]) => nad.map((v, i) => (
        <line key={'dxt' + key + i} x1={dc(sc, i)} x2={dc(sc, i)} y1={ydT(0)} y2={ydT(0) + 2} stroke={INK} strokeWidth={0.5} />
      )))}
      <text fontSize={7} fill={INK} textAnchor="middle" transform="translate(368.5,372) rotate(-90)">NAD⁺</text>
      <text fontSize={6.5} fill={INK} textAnchor="middle" transform="translate(375.5,377) rotate(-90)">(nmol mg⁻¹, A<tspan fontSize={4.5} dy={1.5}>450 nm</tspan><tspan dy={-1.5}>)</tspan></text>
      <path d={bracket(dc(xdPH, 2), dc(xdPH, 4), 339.3, 5)} fill="none" stroke={INK} strokeWidth={0.8} />
      <path d={`M${(dc(xdPH, 2) + dc(xdPH, 4)) / 2},339.3V332.3H${dc(xdPH, 6)}V337`} fill="none" stroke={INK} strokeWidth={0.8} />
      <line x1={dc(xdPH, 6) - 3.5} x2={dc(xdPH, 6) + 3.5} y1={337} y2={337} stroke={INK} strokeWidth={0.8} />
      <text x={470.5} y={330.5} fontSize={5.6} fill={INK} textAnchor="middle"><tspan fontStyle="italic">P</tspan> &lt; 0.0001</text>
      <path d={bracket(dc(xdNP, 2), dc(xdNP, 4), 331.7, 5)} fill="none" stroke={INK} strokeWidth={0.8} />
      <path d={`M${(dc(xdNP, 2) + dc(xdNP, 4)) / 2},331.7V321.3H${dc(xdNP, 9)}V329`} fill="none" stroke={INK} strokeWidth={0.8} />
      <line x1={dc(xdNP, 9) - 4} x2={dc(xdNP, 9) + 4} y1={329} y2={329} stroke={INK} strokeWidth={0.8} />
      <text x={518} y={330} fontSize={4.8} fill={INK} textAnchor="middle"><tspan fontStyle="italic">P</tspan> = 0.0009</text>
      <text x={541} y={330} fontSize={4.8} fill={INK} textAnchor="middle"><tspan fontStyle="italic">P</tspan> &lt; 0.0001</text>
      <text x={543.5} y={319.3} fontSize={5.6} fill={INK} textAnchor="middle"><tspan fontStyle="italic">P</tspan> &lt; 0.0009</text>
      <text x={576} y={319.3} fontSize={5.6} fill={INK} textAnchor="middle"><tspan fontStyle="italic">P</tspan> &lt; 0.0309</text>

      {dAll.map(([sc, , bars, , key]) => bars.map((v, i) => {
        const y0 = Math.min(thrD, ydB(v)), h = Math.abs(ydB(v) - thrD);
        const fill = key === 'non' ? '#fff' : key === 'ph' ? PINKF : BLUEF;
        return <rect key={'dbb' + key + i} x={sc(i)} width={sc.bandwidth()} y={y0} height={h} fill={fill}
          stroke={key === 'non' ? INK : 'none'} strokeWidth={0.7} />;
      }))}
      {dAll.map(([sc, , , , key], gi) => deathAll[gi].map((vals, i) => {
        const kind = key === 'non' ? (i < 2 ? 'dark' : i < 4 ? 'red' : 'blue') : 'dark';
        return swarm(vals, ydB, dc(sc, i), 1.0, 1.8).map((p, k) => <Dot key={'dbd' + key + i + '_' + k} p={p} kind={kind} r={0.95} />);
      }))}
      <line x1={396} x2={577} y1={thrD} y2={thrD} stroke={INK} strokeWidth={0.8} />
      <line x1={396} x2={396} y1={ydB(3)} y2={ydB(-1)} stroke={INK} strokeWidth={0.7} />
      <line x1={396} x2={577} y1={ydB(-1)} y2={ydB(-1)} stroke={INK} strokeWidth={0.7} />
      {dDeathTicks.map(t => (
        <g key={'dbt' + t}>
          <line x1={393.5} x2={396} y1={ydB(t)} y2={ydB(t)} stroke={INK} strokeWidth={0.6} />
          <T x={392.5} y={ydB(t) + 2.4} s={7} a="end">{t}</T>
        </g>
      ))}
      {dAll.map(([sc, nad, , , key]) => nad.map((v, i) => (
        <line key={'dbx' + key + i} x1={dc(sc, i)} x2={dc(sc, i)} y1={ydB(-1)} y2={ydB(-1) + 2} stroke={INK} strokeWidth={0.5} />
      )))}
      <line x1={434.8} x2={434.8} y1={303} y2={540} stroke="#777" strokeWidth={0.6} />
      <line x1={507.2} x2={507.2} y1={303} y2={540} stroke="#777" strokeWidth={0.6} />
      <text fontSize={7} fill={INK} textAnchor="middle" transform="translate(373.5,487) rotate(-90)">Cell death (<tspan fontStyle="italic">z</tspan> score)</text>
      <text fontSize={7} fill={INK} textAnchor="middle" transform="translate(380.5,487) rotate(-90)">(shRNA depletion)</text>
      <path d={bracket(dc(xdPH, 1), dc(xdPH, 4), 448.3, 6)} fill="none" stroke={INK} strokeWidth={0.8} />
      <path d={`M${(dc(xdPH, 1) + dc(xdPH, 4)) / 2},448.3V443.5H${dc(xdPH, 6)}V458`} fill="none" stroke={INK} strokeWidth={0.8} />
      <line x1={dc(xdPH, 6) - 3.5} x2={dc(xdPH, 6) + 3.5} y1={458} y2={458} stroke={INK} strokeWidth={0.8} />
      <text x={464} y={441.5} fontSize={5.6} fill={INK} textAnchor="middle"><tspan fontStyle="italic">P</tspan> &lt; 0.0001</text>
      <path d={bracket(dc(xdNP, 1), dc(xdNP, 4), 448.3, 6)} fill="none" stroke={INK} strokeWidth={0.8} />
      <path d={`M${dc(xdNP, 4) - 3},448.3V440H${dc(xdNP, 9) - 1}V455`} fill="none" stroke={INK} strokeWidth={0.8} />
      <line x1={dc(xdNP, 9) - 5} x2={dc(xdNP, 9) + 3} y1={455} y2={455} stroke={INK} strokeWidth={0.8} />
      <text x={528} y={446.5} fontSize={5.6} fill={INK} textAnchor="middle"><tspan fontStyle="italic">P</tspan> = 0.0001</text>
      <text x={546.5} y={438.3} fontSize={5.6} fill={INK} textAnchor="middle"><tspan fontStyle="italic">P</tspan> = 0.0004</text>
      <text x={574} y={438.3} fontSize={5.6} fill={INK} textAnchor="middle"><tspan fontStyle="italic">P</tspan> = 0.045</text>

      <T x={362} y={548.5} s={7}>DOX</T>
      <line x1={379} x2={394} y1={546} y2={546} stroke={INK} strokeWidth={0.8} markerEnd={arrow} />
      {dNonDox.map((s, i) => <T key={'dx0' + i} x={dc(xdNon, i)} y={548.5} s={7.5} a="middle">{s}</T>)}
      {dCancerDox.map((s, i) => <T key={'dx1' + i} x={dc(xdPH, i)} y={548.5} s={7.5} a="middle">{s}</T>)}
      {dCancerDox.map((s, i) => <T key={'dx2' + i} x={dc(xdNP, i)} y={548.5} s={7.5} a="middle">{s}</T>)}
      {[0, 2, 4].map(i => <path key={'dbr' + i} d={`M${dc(xdNon, i) - 1},550.5V553H${dc(xdNon, i + 1) + 1}V550.5`} fill="none" stroke={INK} strokeWidth={0.7} />)}
      <path d={`M${dc(xdPH, 0) - 1},550.5V553H${dc(xdPH, 1) + 1}V550.5`} fill="none" stroke={INK} strokeWidth={0.7} />
      <path d={`M${dc(xdNP, 0) - 1},550.5V553H${dc(xdNP, 1) + 1}V550.5`} fill="none" stroke={INK} strokeWidth={0.7} />
      <T x={362} y={580} s={7}>ishRNAs</T>
      {[['NTC', INK, 0], ['NAPRT', TRED, 2], ['NAMPT', TBLUE, 4]].map(([s, col, i]: any) => (
        <text key={'dil' + s} fontSize={7} fill={col} fontStyle={s === 'NTC' ? undefined : 'italic'} textAnchor="start"
          transform={`translate(${(dc(xdNon, i) + dc(xdNon, i + 1)) / 2 + 2.4},589) rotate(-90)`}>{s}</text>
      ))}
      <text fontSize={7} fill={INK} textAnchor="start" transform={`translate(${(dc(xdPH, 0) + dc(xdPH, 1)) / 2 + 2.4},589) rotate(-90)`}>NTC</text>
      <text fontSize={7} fill={INK} textAnchor="start" transform={`translate(${(dc(xdNP, 0) + dc(xdNP, 1)) / 2 + 2.4},589) rotate(-90)`}>ishNTC</text>
      {[xdPH, xdNP].map((sc, gi) => (
        <g key={'resc' + gi}>
          {rescueLabels.map((s, j) => (
            <text key={'rl' + j} fontSize={6.3} fill={INK} transform={`translate(${dc(sc, j + 4) - 1},566.5) rotate(-60)`}>{s}</text>
          ))}
          <path d={`M${dc(sc, 2) - 1},568.5V570.7H${dc(sc, 11) + 2}V568.5`} fill="none" stroke={INK} strokeWidth={0.6} />
          <T x={(dc(sc, 4) + dc(sc, 11)) / 2} y={577.5} s={7} a="middle">Rescue</T>
          <line x1={dc(sc, 2) - 1.5} x2={dc(sc, 11) + 2} y1={579.5} y2={579.5} stroke={INK} strokeWidth={0.6} />
          <T x={(dc(sc, 2) + dc(sc, 11)) / 2} y={587.5} s={7} a="middle" c={gi === 0 ? TRED : TBLUE} it>{gi === 0 ? 'NAPRT ishRNA' : 'NAMPT ishRNA'}</T>
        </g>
      ))}

      <text x={483} y={589} fontSize={26} fill="#bdbdbd" opacity={0.8} fontFamily="'Noto Sans CJK SC', sans-serif" stroke="#fff" strokeWidth={0.6}>知乎 @生物解码</text>
    </svg>
  );
}
